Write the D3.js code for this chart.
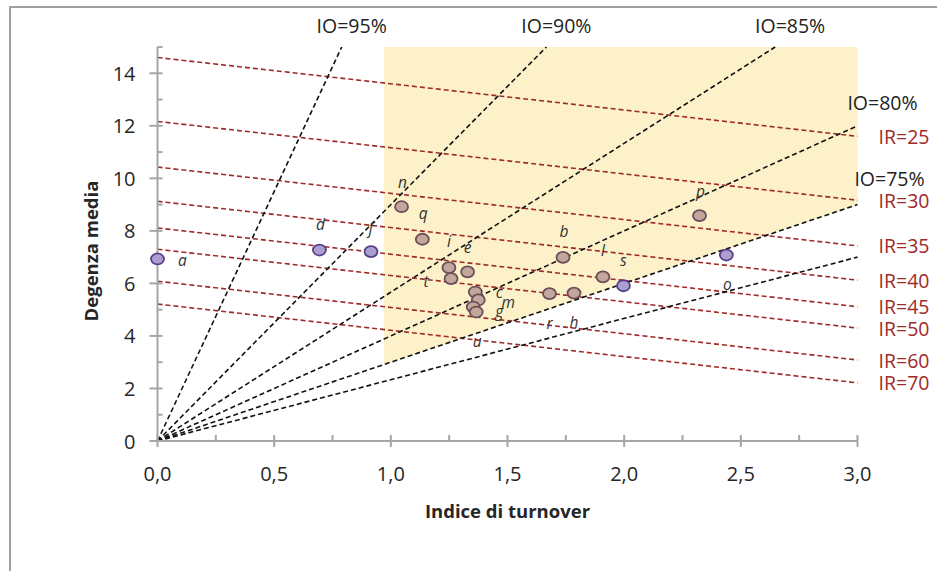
<!DOCTYPE html>
<html>
<head>
<meta charset="utf-8">
<script src="https://cdn.jsdelivr.net/npm/d3@7/dist/d3.min.js"></script>
<style>
  html, body { margin: 0; padding: 0; background: #fff; }
  svg { display: block; }
</style>
</head>
<body>
<svg id="chart" width="937" height="571"></svg>
<script>
// Axis ranges and ticks
const xDomain = [0, 3];
const yDomain = [0, 15];
const xTicks = [0, 0.5, 1, 1.5, 2, 2.5, 3];
const xMinorTicks = [0.25, 0.75, 1.25, 1.75, 2.25, 2.75];
const yTicks = [0, 2, 4, 6, 8, 10, 12, 14];
const yMinorTicks = [1, 3, 5, 7, 9, 11, 13, 15];

// Occupancy-index isolines (IO %), degenza = IO/(100-IO) * turnover
const ioLevels = [95, 90, 85, 80, 75, 70];
const ioLabels = ["IO=95%", "IO=90%", "IO=85%", "IO=80%", "IO=75%", ""];

// Rotation-index isolines (IR), degenza = 365/IR - turnover
const irLevels = [25, 30, 35, 40, 45, 50, 60, 70];
const irLabels = ["IR=25", "IR=30", "IR=35", "IR=40", "IR=45", "IR=50", "IR=60", "IR=70"];

// Efficiency zone: turnover >= zoneTurnoverMin, above the IO=75% line
const zoneTurnoverMin = 0.97;
const zoneIo = 75;

// Wards
const wardNames    = ["a", "d", "f", "n", "q", "i", "t", "e", "c", "m", "g", "u", "r", "h", "b", "l", "s", "p", "o"];
const wardTurnover = [0.00, 0.694, 0.915, 1.046, 1.135, 1.249, 1.258, 1.329, 1.362, 1.375, 1.353, 1.366, 1.680, 1.785, 1.738, 1.909, 1.997, 2.323, 2.438];
const wardDegenza  = [6.93, 7.27, 7.21, 8.92, 7.68, 6.60, 6.18, 6.44, 5.67, 5.37, 5.10, 4.91, 5.61, 5.63, 6.99, 6.25, 5.91, 8.58, 7.08];
const wardInZone   = [false, false, false, true, true, true, true, true, true, true, true, true, true, true, true, true, false, true, false];

// Label placement around each marker (pixels)
const wardLabelOffset = {
  a: [25, 1], d: [1, -26], f: [0, -24], n: [1, -25], q: [1, -26], i: [0, -27],
  t: [-25, 2], e: [0, -25], c: [24, 0], m: [30, 2], g: [26, 4], u: [1, 29],
  r: [0, 29], h: [0, 29], b: [1, -26], l: [0, -27], s: [0, -26], p: [1, -25], o: [1, 29]
};
const ioLabelOffset = [[10, -22], [10, -22], [15, -22], [25, -23], [32, -26], [0, 0]];

const svg = d3.select("#chart");
const plot = { left: 157.5, right: 857.5, top: 47, bottom: 441 };

const x = d3.scaleLinear().domain(xDomain).range([plot.left, plot.right]);
const y = d3.scaleLinear().domain(yDomain).range([plot.bottom, plot.top]);

const font = "'Open Sans', 'Liberation Sans', sans-serif";
const axisGrey = "#a6a6a6";

// Outer frame
svg.append("rect")
  .attr("x", 10).attr("y", 7)
  .attr("width", 940).attr("height", 580)
  .attr("fill", "#fff")
  .attr("stroke", "#a0a0a0").attr("stroke-width", 2);

// Efficiency zone
const zonePts = [
  [zoneTurnoverMin, zoneTurnoverMin * zoneIo / (100 - zoneIo)],
  [zoneTurnoverMin, yDomain[1]],
  [xDomain[1], yDomain[1]],
  [xDomain[1], xDomain[1] * zoneIo / (100 - zoneIo)]
];
svg.append("path")
  .attr("d", d3.line().x(d => x(d[0])).y(d => y(d[1]))(zonePts) + "Z")
  .attr("fill", "#fcf1c9");

// IR isolines
const irG = svg.append("g");
irLevels.forEach((ir, k) => {
  const c = 365 / ir;
  const p0 = [xDomain[0], c], p1 = [xDomain[1], c - xDomain[1]];
  irG.append("line")
    .attr("x1", x(p0[0])).attr("y1", y(p0[1]))
    .attr("x2", x(p1[0])).attr("y2", y(p1[1]))
    .attr("stroke", "#a02a28").attr("stroke-width", 1.6)
    .attr("stroke-dasharray", "5,3");
  irG.append("text")
    .attr("x", x(p1[0]) + 21).attr("y", y(p1[1]))
    .attr("dominant-baseline", "central")
    .attr("font-family", font).attr("font-size", 19.5)
    .attr("fill", "#a02a28")
    .text(irLabels[k]);
});

// IO isolines from the origin
const ioG = svg.append("g");
ioLevels.forEach((io, k) => {
  const slope = io / (100 - io);
  const xEnd = Math.min(xDomain[1], yDomain[1] / slope);
  const yEnd = slope * xEnd;
  ioG.append("line")
    .attr("x1", x(0)).attr("y1", y(0))
    .attr("x2", x(xEnd)).attr("y2", y(yEnd))
    .attr("stroke", "#111").attr("stroke-width", 1.6)
    .attr("stroke-dasharray", "5,3");
  if (ioLabels[k]) {
    ioG.append("text")
      .attr("x", x(xEnd) + ioLabelOffset[k][0])
      .attr("y", y(yEnd) + ioLabelOffset[k][1])
      .attr("text-anchor", "middle").attr("dominant-baseline", "central")
      .attr("font-family", font).attr("font-size", 19.5)
      .attr("fill", "#222")
      .text(ioLabels[k]);
  }
});

// Axes
const axG = svg.append("g")
  .attr("stroke", axisGrey).attr("stroke-width", 2);
axG.append("line").attr("x1", plot.left).attr("x2", plot.left).attr("y1", plot.top).attr("y2", plot.bottom);
axG.append("line").attr("x1", plot.left).attr("x2", plot.right).attr("y1", plot.bottom).attr("y2", plot.bottom);
axG.selectAll(".ymaj").data(yTicks).join("line")
  .attr("x1", plot.left - 8).attr("x2", plot.left + 5)
  .attr("y1", d => y(d)).attr("y2", d => y(d));
axG.selectAll(".ymin").data(yMinorTicks).join("line").attr("class", "ymin")
  .attr("x1", plot.left).attr("x2", plot.left + 5)
  .attr("y1", d => y(d)).attr("y2", d => y(d));
axG.selectAll(".xmaj").data(xTicks).join("line").attr("class", "xmaj")
  .attr("x1", d => x(d)).attr("x2", d => x(d))
  .attr("y1", plot.bottom - 6).attr("y2", plot.bottom + 6);
axG.selectAll(".xmin").data(xMinorTicks).join("line").attr("class", "xmin")
  .attr("x1", d => x(d)).attr("x2", d => x(d))
  .attr("y1", plot.bottom - 6).attr("y2", plot.bottom);

const fmtX = d3.format(".1f");
svg.append("g").selectAll("text").data(xTicks).join("text")
  .attr("x", d => x(d)).attr("y", plot.bottom + 32)
  .attr("text-anchor", "middle").attr("dominant-baseline", "central")
  .attr("font-family", font).attr("font-size", 20).attr("fill", "#262626")
  .text(d => fmtX(d).replace(".", ","));
svg.append("g").selectAll("text").data(yTicks).join("text")
  .attr("x", plot.left - 22).attr("y", d => y(d))
  .attr("text-anchor", "end").attr("dominant-baseline", "central")
  .attr("font-family", font).attr("font-size", 20).attr("fill", "#262626")
  .text(d => d);

// Axis titles
svg.append("text")
  .attr("x", (plot.left + plot.right) / 2).attr("y", 510)
  .attr("text-anchor", "middle").attr("dominant-baseline", "central")
  .attr("font-family", font).attr("font-size", 18.5).attr("font-weight", "bold")
  .attr("fill", "#262626")
  .text("Indice di turnover");
svg.append("text")
  .attr("transform", "translate(90,251) rotate(-90)")
  .attr("text-anchor", "middle").attr("dominant-baseline", "central")
  .attr("font-family", font).attr("font-size", 18.5).attr("font-weight", "bold")
  .attr("fill", "#262626")
  .text("Degenza media");

// Ward markers and labels
const wards = wardNames.map((n, i) => ({
  name: n, t: wardTurnover[i], dm: wardDegenza[i], inZone: wardInZone[i]
}));
const markG = svg.append("g");
markG.selectAll("ellipse").data(wards).join("ellipse")
  .attr("cx", d => x(d.t)).attr("cy", d => y(d.dm))
  .attr("rx", 6.5).attr("ry", 5.5)
  .attr("fill", d => d.inZone ? "#c3a69c" : "#ab9fd0")
  .attr("stroke", d => d.inZone ? "#6b4f58" : "#5a3d8a")
  .attr("stroke-width", 1.8);
markG.selectAll("text").data(wards).join("text")
  .attr("x", d => x(d.t) + wardLabelOffset[d.name][0])
  .attr("y", d => y(d.dm) + wardLabelOffset[d.name][1])
  .attr("text-anchor", "middle").attr("dominant-baseline", "central")
  .attr("font-family", font).attr("font-size", 15.5).attr("font-style", "italic")
  .attr("fill", "#333")
  .text(d => d.name);
</script>
</body>
</html>
